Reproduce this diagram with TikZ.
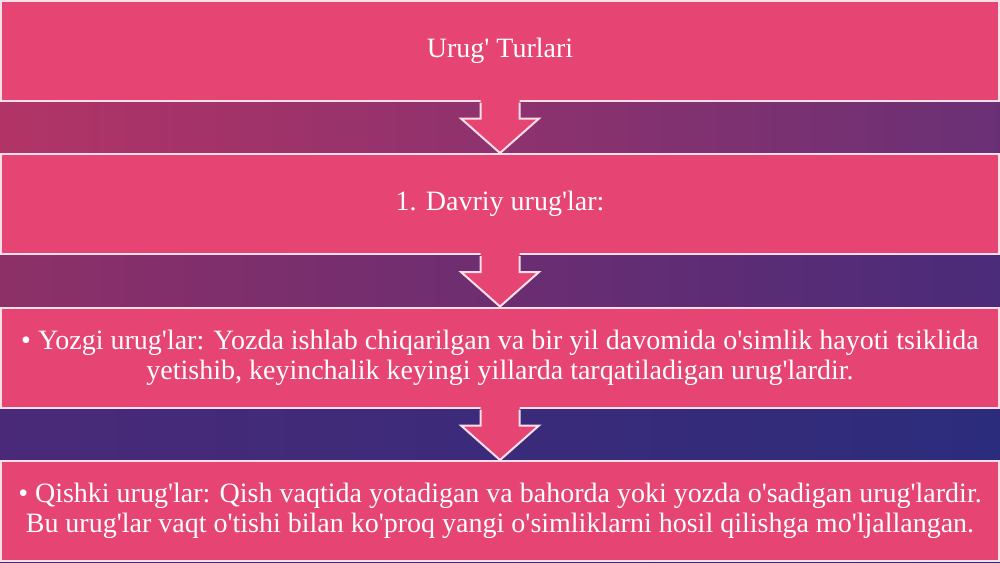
\documentclass[tikz,border=0pt]{standalone}
\usepackage{fontspec}
\newfontfamily\slidefont{Liberation Serif}
\usetikzlibrary{calc}

\definecolor{boxpink}{RGB}{230,68,115}
\definecolor{edgepink}{RGB}{250,222,232}

\tikzset{every picture/.style={line width=0.75pt}}
\tikzset{
  stagebox/.style={draw=edgepink,line width=1.5pt,fill=boxpink,minimum width=748.5pt,minimum height=75pt,inner sep=0pt,text=white,align=center,font=\slidefont\fontsize{21}{22.5}\selectfont},
  arrowfill/.style={fill=boxpink,draw=none},
  arrowedge/.style={draw=edgepink,line width=1.5pt,line join=miter}
}

% block arrow from the bottom of one box to the top of the next
\newcommand{\stagearrow}[2]{%
  \path[arrowfill] ($(#1.south)+(-19.5,-2)$) -- ($(#1.south)+(-19.5,17)$) -- ($(#1.south)+(-39,17)$) -- (#2.north) -- ($(#1.south)+(39,17)$) -- ($(#1.south)+(19.5,17)$) -- ($(#1.south)+(19.5,-2)$) -- cycle ;
  \path[arrowedge] ($(#1.south)+(-19.5,1)$) -- ($(#1.south)+(-19.5,17)$) -- ($(#1.south)+(-39,17)$) -- (#2.north) -- ($(#1.south)+(39,17)$) -- ($(#1.south)+(19.5,17)$) -- ($(#1.south)+(19.5,1)$) ;
}

\begin{document}
\begin{tikzpicture}[x=0.75pt,y=0.75pt,yscale=-1,xscale=1]
	\useasboundingbox (0,0) rectangle (1000,562);

	%Shape: Background [id:bg1]
	\fill [left color={rgb,255:red,178;green,52;blue,102}, middle color={rgb,255:red,160;green,54;blue,105}, right color={rgb,255:red,106;green,48;blue,117}] (0,0) rectangle (1000,180);
	%Shape: Background [id:bg2]
	\fill [left color={rgb,255:red,142;green,48;blue,104}, middle color={rgb,255:red,106;green,46;blue,116}, right color={rgb,255:red,74;green,43;blue,122}] (0,180) rectangle (1000,330);
	%Shape: Background [id:bg3]
	\fill [left color={rgb,255:red,74;green,42;blue,120}, right color={rgb,255:red,44;green,44;blue,124}] (0,330) rectangle (1000,562);

	% Text Node
	\node [stagebox] (turlari) at (500,50.5) {Urug' Turlari};
	% Text Node
	\node [stagebox] (davriy) at (500,204) {1. Davriy urug'lar:};
	% Text Node
	\node [stagebox] (yozgi) at (500,357.5) {• Yozgi urug'lar: Yozda ishlab chiqarilgan va bir yil davomida o'simlik hayoti tsiklida\\yetishib, keyinchalik keyingi yillarda tarqatiladigan urug'lardir.};
	% Text Node
	\node [stagebox] (qishki) at (500,511) {• Qishki urug'lar: Qish vaqtida yotadigan va bahorda yoki yozda o'sadigan urug'lardir.\\Bu urug'lar vaqt o'tishi bilan ko'proq yangi o'simliklarni hosil qilishga mo'ljallangan.};

	%Block Arrows
	\stagearrow{turlari}{davriy}
	\stagearrow{davriy}{yozgi}
	\stagearrow{yozgi}{qishki}

\end{tikzpicture}
\end{document}
